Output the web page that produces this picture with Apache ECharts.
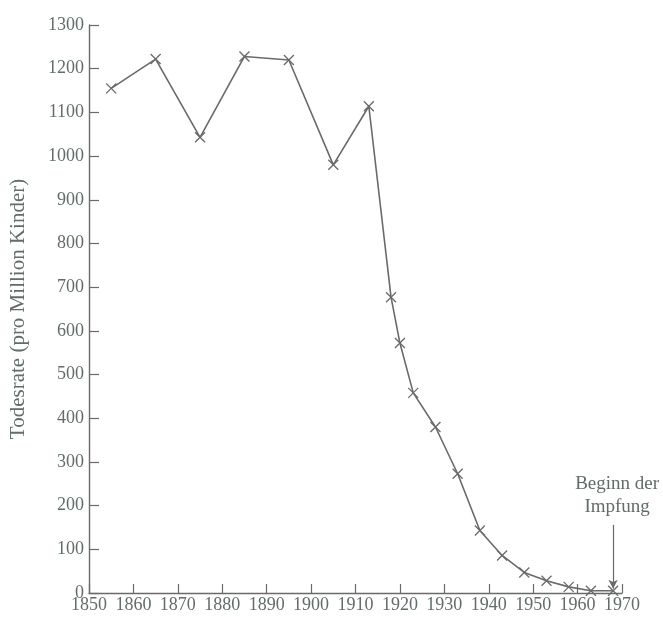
<!DOCTYPE html>
<html>
<head>
<meta charset="utf-8">
<script src="https://cdn.jsdelivr.net/npm/echarts@6/dist/echarts.min.js"></script>
<style>html,body{margin:0;padding:0;background:#fff}#c{width:663px;height:617px}</style>
</head>
<body>
<div id="c"></div>
<script>
var years = [1855, 1865, 1875, 1885, 1895, 1905, 1913, 1918, 1920, 1923, 1928, 1933, 1938, 1943, 1948, 1953, 1958, 1963, 1968];
var rates = [1155, 1222, 1043, 1228, 1220, 980, 1114, 677, 572, 458, 380, 273, 143, 86, 47, 28, 14, 5, 5];
var annotationText = 'Beginn der\nImpfung';
var annotationYear = 1968;
var yTitle = 'Todesrate (pro Million Kinder)';

var txt = '#616d66';
var ax = '#6a6a6a';
var font = 'Liberation Serif';
var xMark = 'path://M0,0L10,10M10,0L0,10';
function plain(v) { return String(v); }

var chart = echarts.init(document.getElementById('c'), null, {renderer: 'canvas'});
chart.setOption({
  animation: false,
  backgroundColor: '#ffffff',
  grid: {left: 87, right: 41, top: 25, bottom: 24, containLabel: false},
  xAxis: {
    type: 'value', min: 1850, max: 1970, interval: 10,
    axisLine: {show: true, lineStyle: {color: ax, width: 1.4}},
    axisTick: {show: true, inside: true, length: 9, lineStyle: {color: ax, width: 1.2}},
    axisLabel: {color: txt, fontFamily: font, fontSize: 18, margin: 3, formatter: plain},
    splitLine: {show: false}
  },
  yAxis: {
    type: 'value', min: 0, max: 1300, interval: 100,
    name: yTitle, nameLocation: 'middle', nameGap: 60,
    nameTextStyle: {color: txt, fontFamily: font, fontSize: 21},
    axisLine: {show: true, lineStyle: {color: ax, width: 1.4}},
    axisTick: {show: true, inside: true, length: 10, lineStyle: {color: ax, width: 1.2}},
    axisLabel: {color: txt, fontFamily: font, fontSize: 18, margin: 5, formatter: plain},
    splitLine: {show: false}
  },
  series: [{
    type: 'line',
    data: years.map(function (y, i) { return [y, rates[i]]; }),
    symbol: xMark, symbolSize: 10, showAllSymbol: true,
    lineStyle: {color: ax, width: 1.6},
    itemStyle: {color: 'rgba(0,0,0,0)', borderColor: ax, borderWidth: 1.3},
    markLine: {
      silent: true, symbol: ['none', 'arrow'], symbolSize: [7, 9],
      lineStyle: {color: ax, width: 1.2, type: 'solid'},
      label: {show: false},
      data: [[{coord: [annotationYear, 156]}, {coord: [annotationYear, 10]}]]
    },
    markPoint: {
      silent: true, symbol: 'circle', symbolSize: 0,
      label: {show: true, formatter: annotationText, color: txt, fontFamily: font, fontSize: 19, lineHeight: 23, align: 'center'},
      data: [{coord: [annotationYear + 0.9, 222]}]
    }
  }]
});
</script>
</body>
</html>
